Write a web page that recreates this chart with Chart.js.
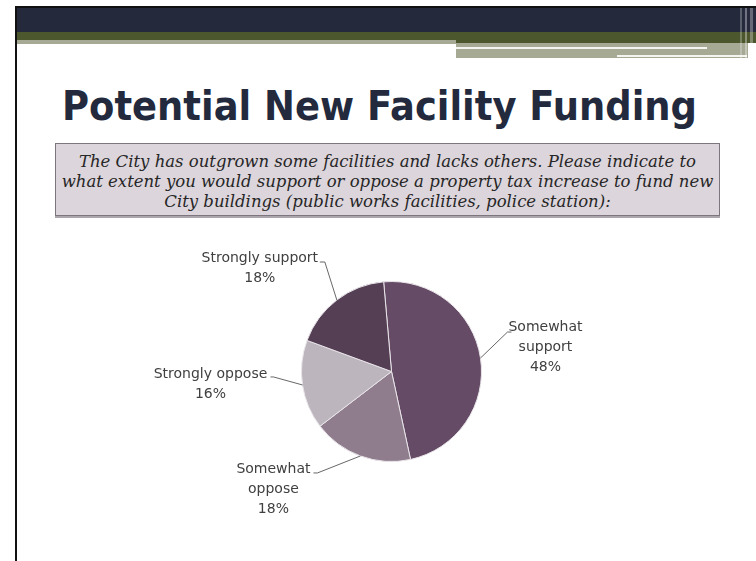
<!DOCTYPE html>
<html>
<head>
<meta charset="utf-8">
<script src="https://cdn.jsdelivr.net/npm/chart.js@4"></script>
<style>
  html, body { margin: 0; padding: 0; background: #fff; }
  #slide { position: relative; width: 756px; height: 561px; overflow: hidden; background: #fff; }
  .bar { position: absolute; }
  #title {
    position: absolute; left: 62px; top: 78px; margin: 0;
    font-family: "DejaVu Sans", sans-serif; font-weight: bold; font-size: 41px;
    color: #232a3d; white-space: nowrap; transform-origin: 0 0; line-height: 56px;
  }
  #question {
    position: absolute; left: 55px; top: 143px; width: 665px; height: 73px;
    background: #dcd5dc; border: 1px solid #7e767f; box-shadow: 0 2px 0 #aba6ab;
    font-family: "DejaVu Serif", serif; font-style: italic; font-size: 15.5px;
    color: #262626; text-align: center; line-height: 20px; padding-top: 8px; box-sizing: border-box;
  }
  #question div { white-space: nowrap; }
  #chart-box { position: absolute; left: 0; top: 220px; width: 756px; height: 341px; }
</style>
</head>
<body>
<div id="slide">
  <!-- header bands -->
  <div class="bar" style="left:15px;top:6px;width:741px;height:2px;background:#111;"></div>
  <div class="bar" style="left:17px;top:8px;width:739px;height:24px;background:#242a3c;"></div>
  <div class="bar" style="left:17px;top:32px;width:439px;height:8px;background:#4c572e;"></div>
  <div class="bar" style="left:456px;top:32px;width:300px;height:11px;background:#4c572e;"></div>
  <div class="bar" style="left:17px;top:40px;width:439px;height:4px;background:#a6aa94;"></div>
  <div class="bar" style="left:456px;top:43px;width:292px;height:15px;background:#a6aa94;"></div>
  <div class="bar" style="left:456px;top:47px;width:251px;height:2px;background:#f4f4f0;"></div>
  <div class="bar" style="left:617px;top:55px;width:130px;height:2px;background:#f4f4f0;"></div>
  <div class="bar" style="left:740px;top:8px;width:2px;height:50px;background:rgba(255,255,255,0.25);"></div>
  <div class="bar" style="left:745px;top:8px;width:2px;height:50px;background:rgba(255,255,255,0.35);"></div>
  <div class="bar" style="left:750px;top:8px;width:3px;height:50px;background:rgba(255,255,255,0.3);"></div>
  <div class="bar" style="left:15px;top:6px;width:2px;height:555px;background:#111;"></div>

  <h1 id="title">Potential New Facility Funding</h1>

  <div id="question">
    <div>The City has outgrown some facilities and lacks others. Please indicate to</div>
    <div id="qline2">what extent you would support or oppose a property tax increase to fund new</div>
    <div>City buildings (public works facilities, police station):</div>
  </div>

  <div id="chart-box"><canvas id="pie"></canvas></div>
</div>

<script>
// --- DATA ---
const categories = ['Somewhat support', 'Somewhat oppose', 'Strongly oppose', 'Strongly support'];
const shares = [48, 18, 16, 18];
const sliceColors = ['#654b66', '#8f7d8e', '#bdb5be', '#553f55'];

// label placement relative to the slice edge (px): elbow, text centre, wrap words
const labelLayout = [
  { elbow: [27, -26], end: [31, -26], text: [65, -31], wrap: true },
  { elbow: [-43, 17], end: [-47, 17], text: [-87, 13], wrap: true },
  { elbow: [-29, -8], end: [-32, -8], text: [-92, -11], wrap: false },
  { elbow: [-12, -38], end: [-17, -38], text: [-77, -42], wrap: false }
];

// fit title width like the original
(function fitTitle() {
  const t = document.getElementById('title');
  const w = t.getBoundingClientRect().width;
  t.style.transform = 'scaleX(' + (635 / w) + ')';
  const q = document.getElementById('question');
  const l2 = document.getElementById('qline2');
  const range = document.createRange();
  range.selectNodeContents(l2);
  const w2 = range.getBoundingClientRect().width;
  q.style.fontSize = (15.5 * 652 / w2) + 'px';
})();

const pieLabels = {
  id: 'pieLabels',
  afterDatasetsDraw(chart) {
    const ctx = chart.ctx;
    const arcs = chart.getDatasetMeta(0).data;
    ctx.save();
    ctx.font = '14px "DejaVu Sans", sans-serif';
    ctx.fillStyle = '#404040';
    ctx.strokeStyle = '#404040';
    ctx.lineWidth = 0.8;
    ctx.textAlign = 'center';
    ctx.textBaseline = 'middle';
    arcs.forEach((arc, i) => {
      const p = arc.getProps(['x', 'y', 'startAngle', 'endAngle', 'outerRadius'], true);
      const mid = (p.startAngle + p.endAngle) / 2;
      const ex = p.x + Math.cos(mid) * p.outerRadius;
      const ey = p.y + Math.sin(mid) * p.outerRadius;
      const lay = labelLayout[i];
      ctx.beginPath();
      ctx.moveTo(ex, ey);
      ctx.lineTo(ex + lay.elbow[0], ey + lay.elbow[1]);
      ctx.lineTo(ex + lay.end[0], ey + lay.end[1]);
      ctx.stroke();
      const lines = lay.wrap ? categories[i].split(' ') : [categories[i]];
      lines.push(shares[i] + '%');
      lines.forEach((s, k) => {
        ctx.fillText(s, ex + lay.text[0], ey + lay.text[1] + k * 20);
      });
    });
    ctx.restore();
  }
};

new Chart(document.getElementById('pie'), {
  type: 'pie',
  data: {
    labels: categories,
    datasets: [{
      data: shares,
      backgroundColor: sliceColors,
      borderColor: '#e8e4e8',
      borderWidth: 1
    }]
  },
  options: {
    responsive: true,
    maintainAspectRatio: false,
    animation: false,
    rotation: -5,
    layout: { padding: { left: 301, right: 274, top: 61, bottom: 99 } },
    plugins: { legend: { display: false }, tooltip: { enabled: false } }
  },
  plugins: [pieLabels]
});
</script>
</body>
</html>
